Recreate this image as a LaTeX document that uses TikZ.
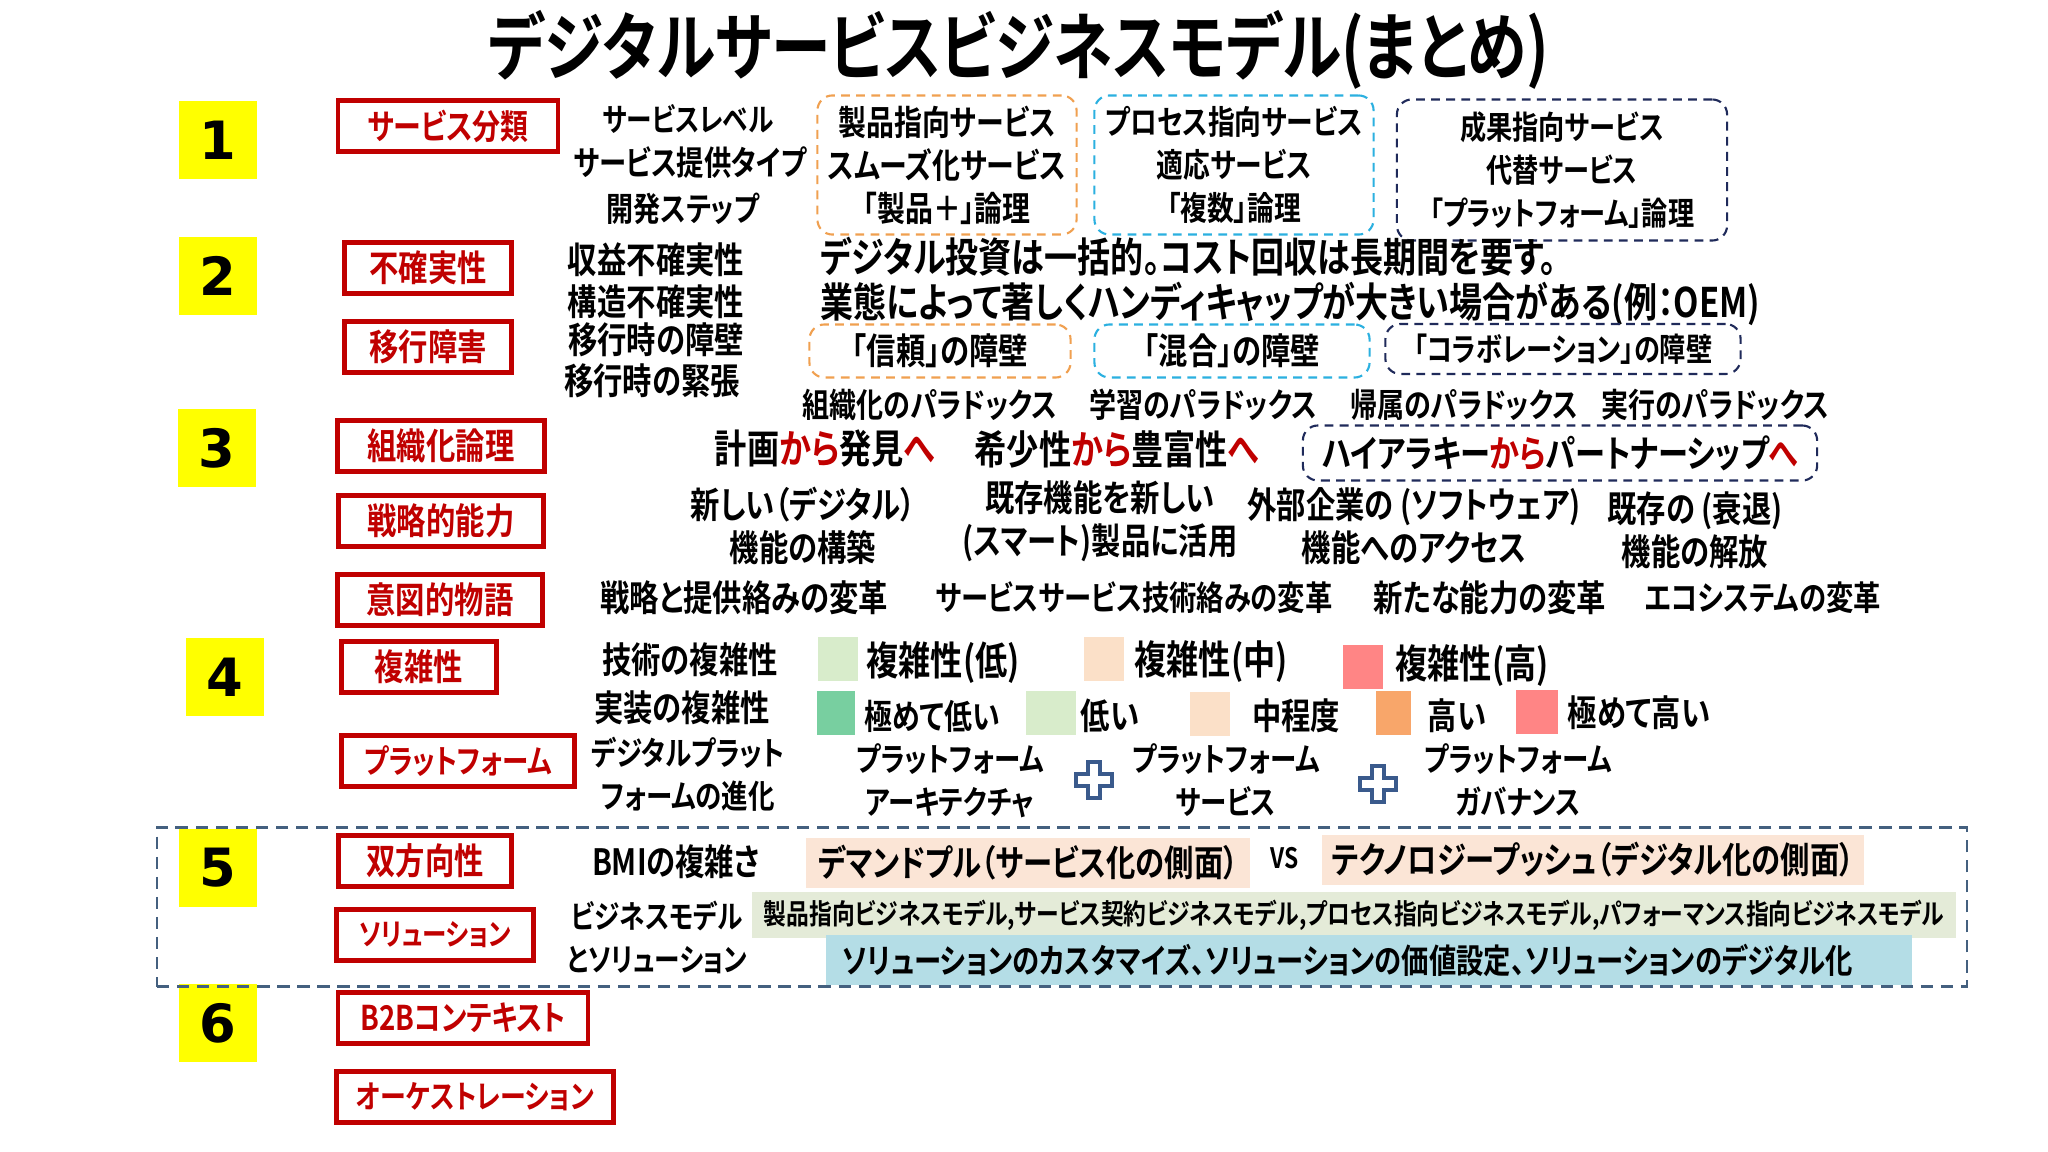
\documentclass[tikz,border=0pt]{standalone}
\usepackage{fontspec}
\setmainfont{Noto Sans CJK JP Bold}[FakeStretch=0.81,RawFeature=+palt]
\newfontfamily\digitfont{DejaVu Sans Bold}
\usetikzlibrary{positioning}

\definecolor{lblred}{HTML}{C00000}
\definecolor{numyellow}{HTML}{FFFF00}
\definecolor{orangeline}{HTML}{F0A050}
\definecolor{cyanline}{HTML}{2BB0E0}
\definecolor{navyline}{HTML}{1F2A5A}
\definecolor{frameline}{HTML}{44607F}
\definecolor{peach}{HTML}{FBE5D6}
\definecolor{sage}{HTML}{E4EBD8}
\definecolor{sky}{HTML}{B4DDE6}
\definecolor{lowgreen}{HTML}{D8ECCB}
\definecolor{lowestgreen}{HTML}{78CFA0}
\definecolor{midpeach}{HTML}{FBE0C8}
\definecolor{highorange}{HTML}{F8A66A}
\definecolor{highpink}{HTML}{FF8585}
\definecolor{plusblue}{HTML}{3A5A8C}

\begin{document}
\begin{tikzpicture}[x=0.01cm,y=-0.01cm,
    every node/.style={inner sep=0pt},
    fs/.style={font=\fontsize{#1}{12.2}\selectfont},
    txt/.style={fs=10.3,align=center},
    big/.style={fs=11.3},
    num/.style={fill=numyellow,minimum width=0.78cm,minimum height=0.77cm,
      font=\digitfont\fontsize{15}{15}\selectfont},
    lbl/.style={draw=lblred,line width=1.2pt,text=lblred,minimum height=0.51cm,fs=10.3},
    grp/.style={draw=#1,line width=0.6pt,dash pattern=on 2.5pt off 1.8pt,
      rounded corners=0.15cm,fs=10.3,align=center},
    sw/.style={fill=#1,minimum width=0.4cm,minimum height=0.43cm},
    plus/.style={draw=plusblue,line width=0.9pt,line join=miter}]

  \fill[white] (0,0) rectangle (2048,1152);
  \useasboundingbox (0,0) rectangle (2048,1152);

  \node[font=\fontsize{21}{25}\selectfont] (title) at (1019,50) {デジタルサービスビジネスモデル(まとめ)};

  % numbers
  \foreach \n/\x/\y in {1/218/140,2/218/276,3/217/448,4/225/677,5/218/868,6/218/1023}
    \node[num] (n\n) at (\x,\y) {\n};

  % red labels
  \node[lbl,fs=9.8,minimum width=2.20cm] (svc) at (448,126) {サービス分類};
  \node[lbl,minimum width=1.67cm] (unc) at (428,268) {不確実性};
  \node[lbl,minimum width=1.67cm] (mig) at (428,347) {移行障害};
  \node[lbl,minimum width=2.07cm] (org) at (441,446) {組織化論理};
  \node[lbl,minimum width=2.05cm] (cap) at (441,521) {戦略的能力};
  \node[lbl,minimum width=2.05cm] (nar) at (440,600) {意図的物語};
  \node[lbl,minimum width=1.55cm] (cpx) at (419,667) {複雑性};
  \node[lbl,fs=9.3,minimum width=2.33cm] (plt) at (458,761) {プラットフォーム};
  \node[lbl,minimum width=1.73cm] (bid) at (425,861) {双方向性};
  \node[lbl,fs=8.6,minimum width=1.97cm] (sol) at (435,935) {ソリューション};
  \node[lbl,fs=9.7,minimum width=2.50cm] (btb) at (463,1018) {B2Bコンテキスト};
  \node[lbl,fs=9.1,minimum width=2.77cm] (orc) at (475,1097) {オーケストレーション};

  % 1
  \node[txt,fs=9.0] (lvl) at (688,119) {サービスレベル};
  \node[txt,fs=9.6] (typ) at (690,163) {サービス提供タイプ};
  \node[txt,fs=9.5] (stp) at (683,209) {開発ステップ};
  \node[grp=orangeline,fs=9.8,minimum width=2.59cm,minimum height=1.39cm] (g1a) at (947,165)
    {製品指向サービス\\スムーズ化サービス\\「製品＋」論理};
  \node[grp=cyanline,fs=9.4,minimum width=2.79cm,minimum height=1.39cm] (g1b) at (1234,165)
    {プロセス指向サービス\\適応サービス\\「複数」論理};
  \node[grp=navyline,fs=9.2,minimum width=3.30cm,minimum height=1.41cm] (g1c) at (1562,170)
    {成果指向サービス\\代替サービス\\「プラットフォーム」論理};

  % 2
  \node[txt] (rev) at (656,260) {収益不確実性};
  \node[txt] (str) at (656,302) {構造不確実性};
  \node[txt] (bar) at (656,340) {移行時の障壁};
  \node[txt] (ten) at (652,381) {移行時の緊張};
  \node[fs=11.6,anchor=west] (inv) at (820,257) {デジタル投資は一括的。コスト回収は長期間を要す。};
  \node[fs=11.6,anchor=west] (hcp) at (820,304) {業態によって著しくハンディキャップが大きい場合がある(例：OEM)};
  \node[grp=orangeline,minimum width=2.61cm,minimum height=0.53cm] (g2a) at (940,351) {「信頼」の障壁};
  \node[grp=cyanline,minimum width=2.75cm,minimum height=0.53cm] (g2b) at (1232,351) {「混合」の障壁};
  \node[grp=navyline,fs=9.2,minimum width=3.55cm,minimum height=0.50cm] (g2c) at (1563,349) {「コラボレーション」の障壁};

  % 3
  \node[txt,fs=9.5] (px1) at (930,405) {組織化のパラドックス};
  \node[txt,fs=9.5] (px2) at (1203,405) {学習のパラドックス};
  \node[txt,fs=9.5] (px3) at (1464,405) {帰属のパラドックス};
  \node[txt,fs=9.5] (px4) at (1715,405) {実行のパラドックス};
  \node[big] (pln) at (825,449) {計画{\color{lblred}から}発見{\color{lblred}へ}};
  \node[big] (scr) at (1117,449) {希少性{\color{lblred}から}豊富性{\color{lblred}へ}};
  \node[grp=navyline,fs=10.6,minimum width=5.14cm,minimum height=0.55cm] (g3) at (1560,453)
    {ハイアラキー{\color{lblred}から}パートナーシップ{\color{lblred}へ}};
  \node[txt] (cp1) at (803,526) {新しい（デジタル）\\機能の構築};
  \node[txt] (cp2) at (1100,521) {既存機能を新しい\\(スマート)製品に活用};
  \node[txt] (cp3) at (1414,526) {外部企業の (ソフトウェア)\\機能へのアクセス};
  \node[txt] (cp4) at (1695,530) {既存の (衰退)\\機能の解放};
  \node[txt] (nr1) at (744,598) {戦略と提供絡みの変革};
  \node[txt,fs=9.6] (nr2) at (1134,598) {サービスサービス技術絡みの変革};
  \node[txt] (nr3) at (1490,598) {新たな能力の変革};
  \node[txt,fs=9.6] (nr4) at (1763,598) {エコシステムの変革};

  % 4
  \node[txt] (tcx) at (690,660) {技術の複雑性};
  \node[txt] (icx) at (682,708) {実装の複雑性};
  \node[sw=lowgreen] (s1) at (838,659) {};
  \node[big] (s1t) at (943,663) {複雑性(低)};
  \node[sw=midpeach] (s2) at (1104,659) {};
  \node[big] (s2t) at (1211,662) {複雑性(中)};
  \node[sw=highpink] (s3) at (1363,667) {};
  \node[big] (s3t) at (1472,666) {複雑性(高)};
  \node[sw=lowestgreen,minimum width=0.37cm] (t1) at (836,713) {};
  \node[txt,fs=9.8] (t1t) at (932,716) {極めて低い};
  \node[sw=lowgreen,minimum width=0.49cm] (t2) at (1051,713) {};
  \node[txt] (t2t) at (1110,716) {低い};
  \node[sw=midpeach] (t3) at (1210,714) {};
  \node[txt] (t3t) at (1296,716) {中程度};
  \node[sw=highorange,minimum width=0.35cm] (t4) at (1393,713) {};
  \node[txt] (t4t) at (1457,716) {高い};
  \node[sw=highpink,minimum width=0.42cm] (t5) at (1537,712) {};
  \node[txt] (t5t) at (1639,713) {極めて高い};

  \node[txt,fs=9.3] (dpe) at (688,774) {デジタルプラット\\フォームの進化};
  \node[txt,fs=9.3] (pfa) at (950,781) {プラットフォーム\\アーキテクチャ};
  \node[txt,fs=9.3] (pfs) at (1226,780) {プラットフォーム\\サービス};
  \node[txt,fs=9.3] (pfg) at (1518,780) {プラットフォーム\\ガバナンス};
  \coordinate (plusa) at (1094,780);
  \coordinate (plusb) at (1378,784);
  \foreach \p in {plusa,plusb}
    \draw[plus] (\p) ++(-6,-18) -- ++(12,0) -- ++(0,12) -- ++(12,0) -- ++(0,12)
      -- ++(-12,0) -- ++(0,12) -- ++(-12,0) -- ++(0,-12) -- ++(-12,0) -- ++(0,-12)
      -- ++(12,0) -- cycle;

  % 5
  \node[draw=frameline,line width=0.8pt,dash pattern=on 3.5pt off 2.2pt,
    minimum width=18.09cm,minimum height=1.59cm] (frame5) at (1062,907) {};
  \node[txt] (bmi) at (676,862) {BMIの複雑さ};
  \node[txt,fill=peach,minimum width=4.44cm,minimum height=0.50cm] (dmd) at (1028,863)
    {デマンドプル（サービス化の側面）};
  \node[font=\fontsize{8}{9}\selectfont] (vs) at (1285,858) {VS};
  \node[txt,fill=peach,minimum width=5.42cm,minimum height=0.49cm] (tch) at (1593,860)
    {テクノロジープッシュ（デジタル化の側面）};
  \node[txt,fs=9.0] (bms) at (657,937) {ビジネスモデル\\とソリューション};
  \node[fill=sage,font=\fontsize{8}{9}\selectfont,minimum width=12.04cm,minimum height=0.45cm]
    (bmt) at (1354,915)
    {製品指向ビジネスモデル,サービス契約ビジネスモデル,プロセス指向ビジネスモデル,パフォーマンス指向ビジネスモデル};
  \node[fill=sky,font=\fontsize{9.6}{11}\selectfont,anchor=west,text width=10.52cm,inner xsep=0.17cm,
    minimum height=0.50cm,align=left]
    (slt) at (825,960) {ソリューションのカスタマイズ、ソリューションの価値設定、ソリューションのデジタル化};
\end{tikzpicture}
\end{document}
